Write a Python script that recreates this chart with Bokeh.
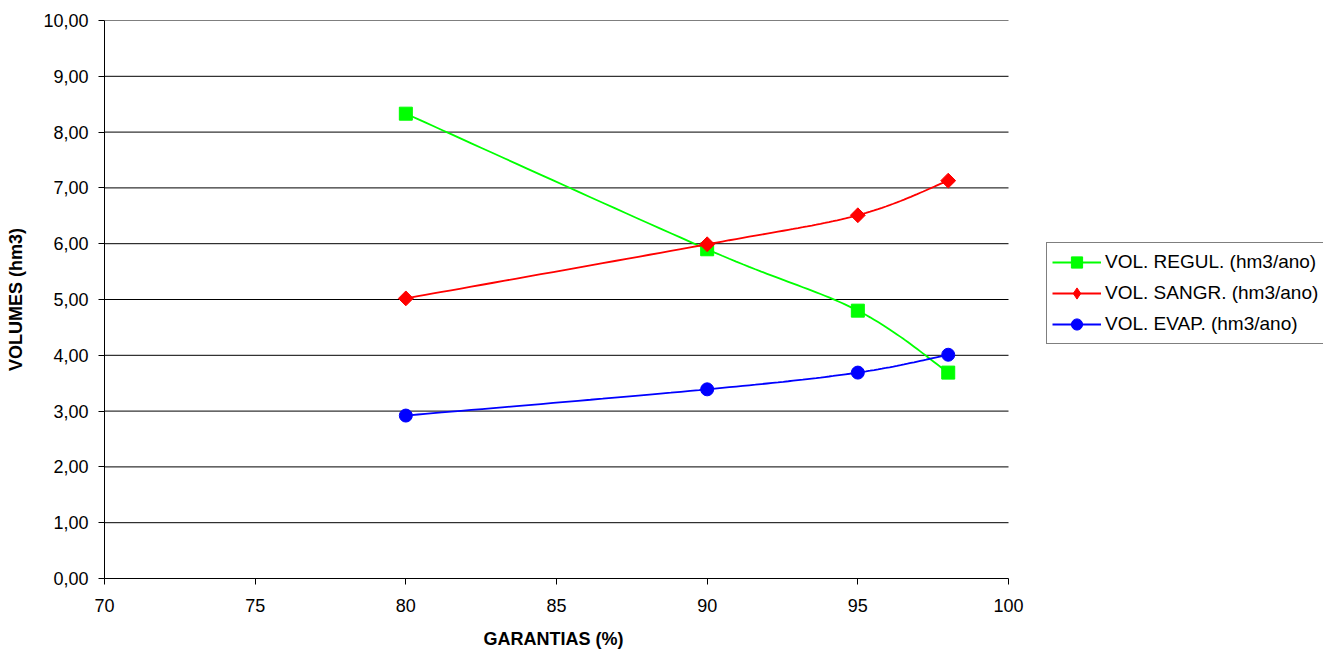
import numpy as np
from bokeh.plotting import figure
from bokeh.models import (Range1d, FixedTicker, CustomJSTickFormatter, Legend, LegendItem, Title)
from bokeh.embed import file_html
from bokeh.resources import INLINE

# Guarantee levels (%) and annual volumes (hm3/ano)
garantias = [80, 90, 95, 98]
vol_regul = [8.33, 5.90, 4.80, 3.69]
vol_sangr = [5.02, 5.99, 6.51, 7.13]
vol_evap = [2.92, 3.39, 3.69, 4.01]

x_ticks = [70, 75, 80, 85, 90, 95, 100]
y_ticks = list(range(0, 11))

X_MIN, X_MAX = 70, 100
PLOT_W, FRAME_W = 904, 1219   # axis length vs. full drawing width (legend sits to the right)


def smooth(xs, ys, n=30):
    """Cardinal-style cubic Bezier through the points (spreadsheet smoothed line)."""
    pts = np.column_stack([xs, ys]).astype(float)
    out = []
    m = len(pts)
    for i in range(m - 1):
        p0 = pts[i - 1] if i > 0 else pts[i]
        p1, p2 = pts[i], pts[i + 1]
        p3 = pts[i + 2] if i + 2 < m else pts[i + 1]
        c1 = p1 + (p2 - p0) / 6.0
        c2 = p2 - (p3 - p1) / 6.0
        t = np.linspace(0, 1, n)[:, None]
        seg = ((1 - t) ** 3) * p1 + 3 * ((1 - t) ** 2) * t * c1 + 3 * (1 - t) * t ** 2 * c2 + t ** 3 * p2
        out.append(seg if i == 0 else seg[1:])
    seg = np.vstack(out)
    return seg[:, 0], seg[:, 1]


x_end = X_MIN + (X_MAX - X_MIN) * FRAME_W / PLOT_W
p = figure(width=1323, height=650, output_backend="svg", toolbar_location=None,
           x_range=Range1d(X_MIN, x_end), y_range=Range1d(0, 10),
           min_border_left=104, min_border_right=0, min_border_top=20, min_border_bottom=72)
p.outline_line_color = None
p.background_fill_color = "white"
p.border_fill_color = "white"
# an out-of-view range used only by the legend key symbols
p.extra_y_ranges = {"key": Range1d(start=-20, end=-10)}

font = "Liberation Sans"
for ax in (p.xaxis[0], p.yaxis[0]):
    ax.axis_line_color = "black"
    ax.major_tick_line_color = "black"
    ax.major_tick_out = 6
    ax.major_tick_in = 0
    ax.minor_tick_line_color = None
    ax.major_label_text_font = font
    ax.major_label_text_font_size = "18px"
    ax.major_label_text_color = "black"
    ax.axis_label_text_font = font
    ax.axis_label_text_font_size = "18px"
    ax.axis_label_text_font_style = "bold"
    ax.axis_label_text_color = "black"

p.xaxis.bounds = (X_MIN, X_MAX)
p.xaxis.ticker = FixedTicker(ticks=x_ticks)
p.yaxis.ticker = FixedTicker(ticks=y_ticks)
p.yaxis.formatter = CustomJSTickFormatter(code="return tick.toFixed(2).replace('.', ',');")
p.yaxis.axis_label = "VOLUMES (hm3)"
p.xaxis.major_label_standoff = 14
p.yaxis.major_label_standoff = 10
p.yaxis.axis_label_standoff = 14

# x-axis title, centred under the 70-100 span
x_title = Title(text="GARANTIAS (%)", align="left", offset=379,
                text_font=font, text_font_size="18px", text_font_style="bold",
                text_color="black", standoff=0,
                padding=dict(left=0, right=0, top=12, bottom=0))
p.add_layout(x_title, "below")

# horizontal gridlines only across the axis span
p.xgrid.grid_line_color = None
p.ygrid.grid_line_color = None
grid_y = y_ticks[1:]
p.segment(x0=[X_MIN] * len(grid_y), x1=[X_MAX] * len(grid_y), y0=grid_y, y1=grid_y,
          line_color="black", line_width=1)

series = [
    ("VOL. REGUL. (hm3/ano)", vol_regul, "#00ff00", "square", 13, 0.0, "square", 13),
    ("VOL. SANGR. (hm3/ano)", vol_sangr, "#ff0000", "square", 10.5, np.pi / 4, "diamond", 16),
    ("VOL. EVAP. (hm3/ano)", vol_evap, "#0000ff", "circle", 13, 0.0, "circle", 13),
]

items = []
for label, ys, color, marker, size, angle, key_marker, key_size in series:
    sx, sy = smooth(garantias, ys)
    ln = p.line(sx, sy, line_color=color, line_width=1.8)
    p.scatter(garantias, ys, marker=marker, size=size, angle=angle,
              fill_color=color, line_color=color)
    # legend key symbol, mapped onto the out-of-view range
    key = p.scatter(garantias, ys, marker=key_marker, size=key_size,
                    fill_color=color, line_color=color, y_range_name="key")
    items.append(LegendItem(label=label, renderers=[ln, key]))

legend = Legend(items=items, location=(942, 234))
legend.label_text_font = font
legend.label_text_font_size = "19px"
legend.label_text_color = "black"
legend.border_line_color = "black"
legend.border_line_width = 1
legend.glyph_width = 49
legend.glyph_height = 28
legend.label_height = 28
legend.spacing = 3
legend.padding = 5
legend.margin = 0
legend.label_standoff = 4
p.add_layout(legend, "center")

open("out.html", "w").write(file_html(p, INLINE))
